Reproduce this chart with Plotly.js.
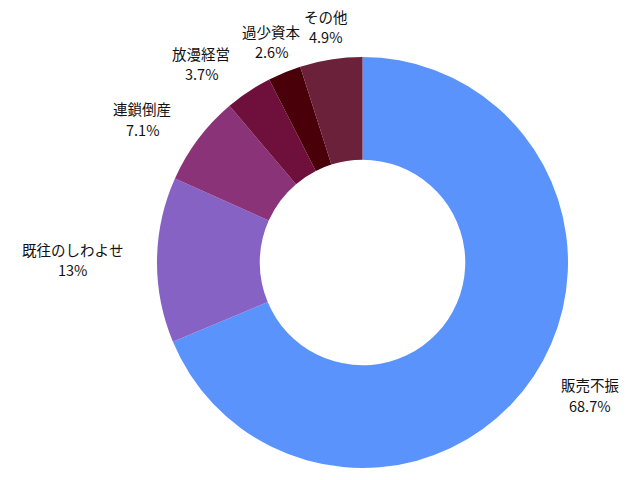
<!DOCTYPE html>
<html>
<head>
<meta charset="utf-8">
<script src="https://cdn.plot.ly/plotly-3.0.1.min.js"></script>
<style>
    html, body { margin: 0; padding: 0; background: #fff; }
    #chart { width: 640px; height: 480px; }
</style>
</head>
<body>
<div id="chart"></div>
<script>
let causes = ['販売不振', '既往のしわよせ', '連鎖倒産', '放漫経営', '過少資本', 'その他'];
let shares = [68.7, 13, 7.1, 3.7, 2.6, 4.9];
let sliceColors = ['#5b93fd', '#8662c4', '#8b3379', '#6e0f3c', '#4a0009', '#6b2139'];

let fontFamily = '"Noto Sans CJK JP", "Noto Sans", sans-serif';
let fontSize = 14.5;
let lineGap = 20.5;

// plot area in pixels (must agree with the margins below)
let plotLeft = 85;
let plotTop = 57;
let plotWidth = 555;
let plotHeight = 411;
let radius = plotHeight / 2;
let labelRadius = radius * 1.163;

let measureCtx = document.createElement('canvas').getContext('2d');
measureCtx.font = fontSize + 'px ' + fontFamily;

function percentText(v, total) {
    let p = v / total * 100;
    return (Math.round(p * 10) / 10).toString() + '%';
}

function toPaper(px, py) {
    return {
        x: (px - plotLeft) / plotWidth,
        y: 1 - (py - plotTop) / plotHeight
    };
}

function buildLabels() {
    let total = shares.reduce(function (a, b) { return a + b; }, 0);
    let cx = plotLeft + plotWidth / 2;
    let cy = plotTop + plotHeight / 2;
    let cum = 0;
    let notes = [];

    for (let i = 0; i < shares.length; i++) {
        let mid = (cum + shares[i] / 2) / total * 2 * Math.PI;   // clockwise from top
        cum += shares[i];

        let sx = Math.sin(mid);
        let px = cx + labelRadius * sx;
        let py = cy - labelRadius * Math.cos(mid);

        let name = causes[i];
        let pct = percentText(shares[i], total);
        let w = Math.max(measureCtx.measureText(name).width, measureCtx.measureText(pct).width);

        // block sits to the side of the anchor point, centred near the top
        let centerX = px;
        if (sx > 0.5) {
            centerX = px + w / 2;
        } else if (sx < -0.5) {
            centerX = px - w / 2;
        }

        let top = toPaper(centerX, py - lineGap / 2);
        let bottom = toPaper(centerX, py + lineGap / 2);

        notes.push({
            xref: 'paper', yref: 'paper',
            x: top.x, y: top.y,
            xanchor: 'center', yanchor: 'middle',
            showarrow: false,
            text: name
        });
        notes.push({
            xref: 'paper', yref: 'paper',
            x: bottom.x, y: bottom.y,
            xanchor: 'center', yanchor: 'middle',
            showarrow: false,
            text: pct
        });
    }

    return notes;
}

let data = [{
    type: 'pie',
    labels: causes,
    values: shares,
    hole: 0.5,
    sort: false,
    direction: 'clockwise',
    rotation: 0,
    textinfo: 'none',
    marker: {
        colors: sliceColors,
        line: { width: 0 }
    },
    showlegend: false
}];

let layout = {
    width: 640,
    height: 480,
    font: {
        family: fontFamily,
        size: fontSize,
        color: '#111'
    },
    margin: { l: plotLeft, r: 640 - plotLeft - plotWidth, t: plotTop, b: 480 - plotTop - plotHeight },
    paper_bgcolor: '#fff',
    showlegend: false,
    annotations: buildLabels()
};

Plotly.newPlot('chart', data, layout, { staticPlot: true });
</script>
</body>
</html>
